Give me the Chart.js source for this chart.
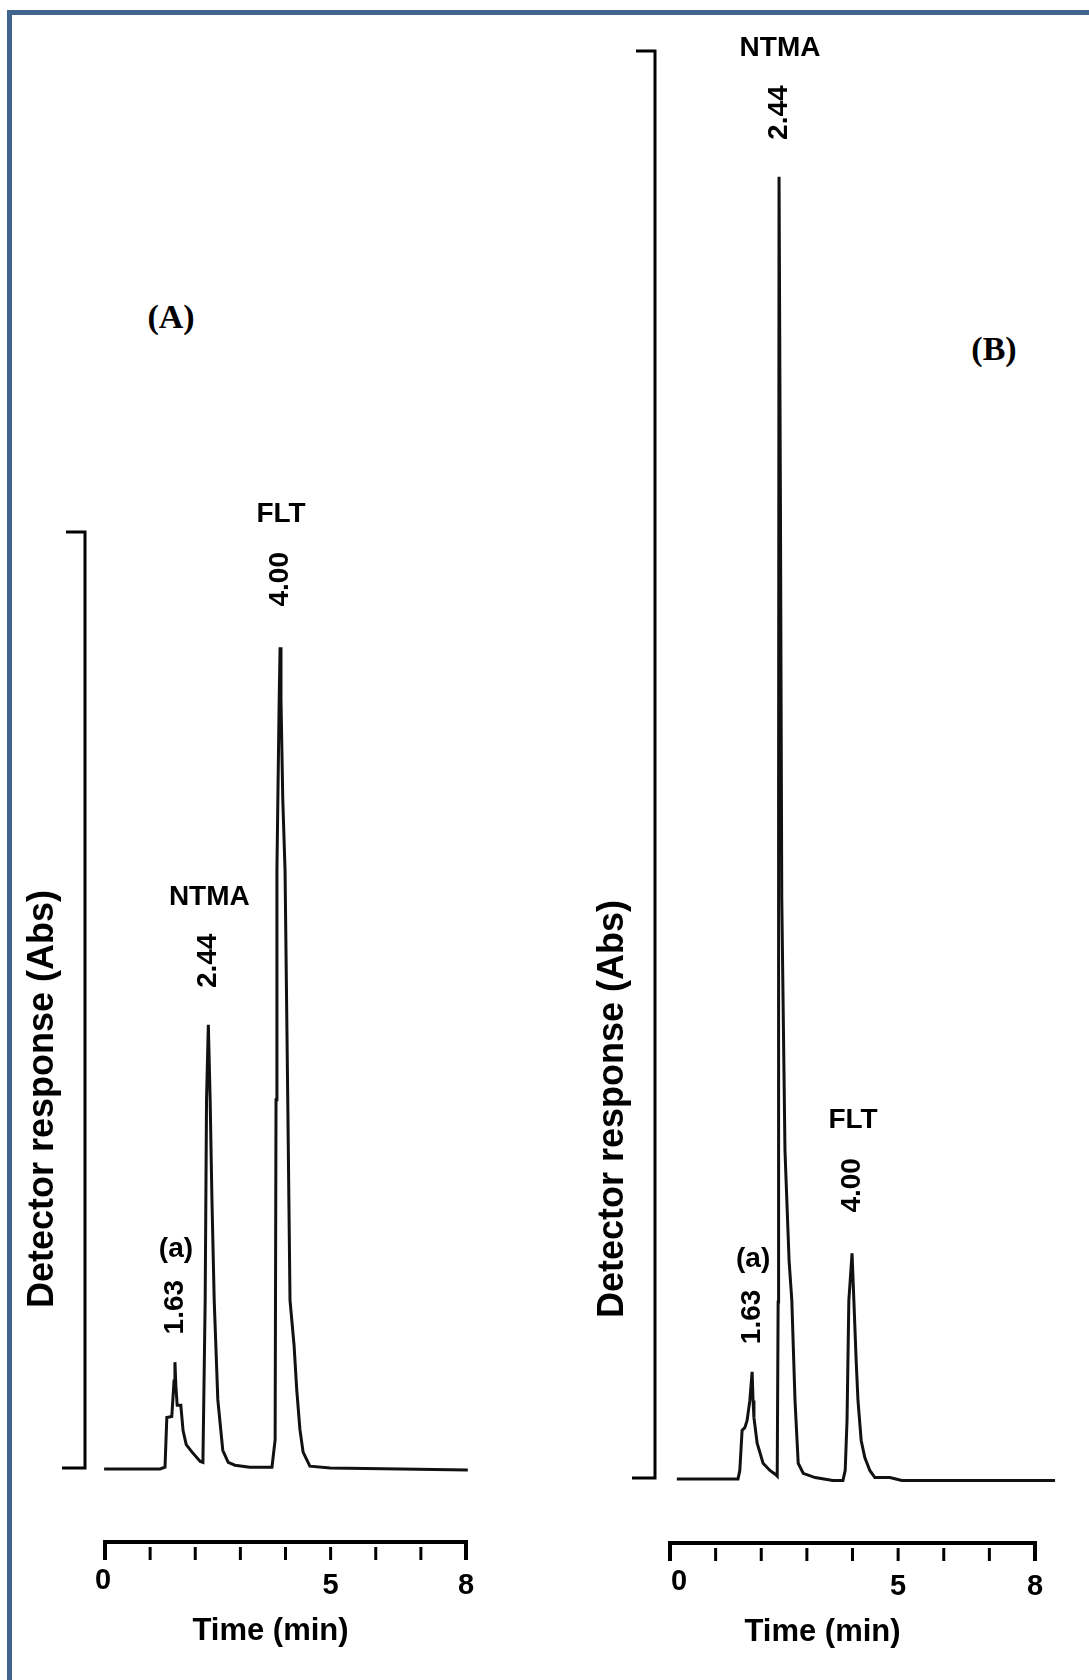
<!DOCTYPE html>
<html>
<head>
<meta charset="utf-8">
<script src="https://cdn.jsdelivr.net/npm/chart.js@4"></script>
<style>
  body { margin: 0; background: #fff; width: 1089px; height: 1680px; overflow: hidden; position: relative; }
  canvas { position: absolute; left: 0; top: 0; }
  .frame { position: absolute; left: 7px; top: 10px; width: 1200px; height: 1800px;
           border-top: 5px solid #41648f; border-left: 5px solid #41648f; }
  .tag { position: absolute; font: bold 34px "Liberation Serif", "Times New Roman", serif; transform: translate(-50%, -50%); }
</style>
</head>
<body>
<div class="frame"></div>
<div class="tag" style="left:171px; top:317px;">(A)</div>
<div class="tag" style="left:994px; top:349px;">(B)</div>
<canvas id="chartA" width="1089" height="1680"></canvas>
<canvas id="chartB" width="1089" height="1680"></canvas>
<script>
// time axis
const timeTicks = [0, 1, 2, 3, 4, 5, 6, 7, 8];
const timeTickLabels = ['0', '', '', '', '', '5', '', '', '8'];

// peak annotations (same for both runs)
const peakNames = ['(a)', 'NTMA', 'FLT'];
const peakRetention = ['1.63', '2.44', '4.00'];

// chromatogram A (time in min, response in % of bracket)
const timeA = [-0.02, 0.78, 1.22, 1.33, 1.37, 1.48, 1.53, 1.55, 1.57, 1.60, 1.68, 1.73, 1.80, 1.93, 2.11,
  2.17, 2.22, 2.25, 2.29, 2.33, 2.37, 2.42, 2.50, 2.61, 2.73, 2.88, 3.21,
  3.70, 3.77, 3.79, 3.81, 3.86, 3.88, 3.90, 3.94, 3.99, 4.05, 4.10, 4.19, 4.25, 4.32, 4.39, 4.54,
  4.99, 6.54, 8.04];
const respA = [0, 0, 0, 0.2, 5.5, 5.6, 9.4, 11.4, 8.9, 6.8, 6.8, 4.1, 2.6, 1.8, 0.8,
  0.7, 18.0, 39.4, 47.4, 39.4, 28.7, 18.0, 7.4, 2.0, 0.7, 0.4, 0.2,
  0.2, 3.1, 39.4, 63.9, 82.1, 87.7, 82.1, 71.4, 63.9, 39.4, 18.0, 13.2, 8.4, 4.2, 1.8, 0.3,
  0.1, 0, -0.1];

// chromatogram B
const timeB = [0.15, 1.49, 1.53, 1.58, 1.64, 1.69, 1.75, 1.80, 1.82, 1.84, 1.91, 2.04, 2.19, 2.32,
  2.35, 2.37, 2.38, 2.39, 2.42, 2.45, 2.52, 2.61, 2.67, 2.74, 2.81, 2.92, 3.18, 3.57,
  3.79, 3.84, 3.88, 3.92, 3.99, 4.03, 4.08, 4.12, 4.19, 4.27, 4.38, 4.49, 4.82, 5.08, 8.44];
const respB = [0, 0, 0.6, 3.4, 3.6, 4.1, 5.5, 7.5, 5.5, 4.3, 2.5, 1.1, 0.6, 0.3,
  0.2, 12.4, 47.5, 91.2, 68.6, 40.6, 23.0, 15.3, 12.5, 5.5, 1.1, 0.4, 0.1, -0.1,
  -0.1, 0.6, 4.1, 12.5, 15.8, 12.5, 8.3, 5.5, 2.7, 1.5, 0.6, 0.1, 0.1, -0.1, -0.1];

// how far above each apex the name / retention label sits (px)
const nameLift = [113, 128, 133];
const rtLift = [55, 64, 68];

const bold = px => 'bold ' + px + 'px "Liberation Sans", Arial, sans-serif';

// brackets, time axis, titles and peak labels
const chromPlugin = {
  id: 'chrom',
  afterDatasetsDraw(chart, args, o) {
    const ctx = chart.ctx, xs = chart.scales.x, ys = chart.scales.y;
    const base = ys.getPixelForValue(0);
    ctx.save();
    ctx.strokeStyle = '#000';
    ctx.fillStyle = '#000';
    ctx.lineCap = 'butt';

    // response bracket
    const bx = xs.getPixelForValue(0) - o.bracketGap;
    const top = ys.getPixelForValue(100);
    ctx.lineWidth = 3;
    ctx.beginPath();
    ctx.moveTo(bx - 19, top);
    ctx.lineTo(bx, top);
    ctx.lineTo(bx, base - 1);
    ctx.lineTo(bx - 23, base - 1);
    ctx.stroke();

    // y title
    ctx.save();
    ctx.translate(bx - 42, base - 370);
    ctx.rotate(-Math.PI / 2);
    ctx.font = bold(36);
    ctx.textAlign = 'center';
    ctx.textBaseline = 'middle';
    ctx.fillText('Detector response (Abs)', 0, 0);
    ctx.restore();

    // time axis bracket
    const ay = base + o.axisGap;
    const x0 = xs.getPixelForValue(timeTicks[0]);
    const x1 = xs.getPixelForValue(timeTicks[timeTicks.length - 1]);
    ctx.lineWidth = 4;
    ctx.beginPath();
    ctx.moveTo(x0, ay + 18);
    ctx.lineTo(x0, ay);
    ctx.lineTo(x1, ay);
    ctx.lineTo(x1, ay + 18);
    ctx.stroke();
    ctx.lineWidth = 3;
    ctx.font = bold(29);
    ctx.textAlign = 'center';
    ctx.textBaseline = 'middle';
    timeTicks.forEach((t, i) => {
      const x = xs.getPixelForValue(t);
      if (i > 0 && i < timeTicks.length - 1) {
        ctx.beginPath();
        ctx.moveTo(x, ay + 5);
        ctx.lineTo(x, ay + 18);
        ctx.stroke();
      }
      if (timeTickLabels[i]) ctx.fillText(timeTickLabels[i], x + (i === 0 ? o.zeroDx : 0), ay + (i === 0 ? 39 : 44));
    });
    ctx.font = bold(31);
    ctx.fillText('Time (min)', (x0 + x1) / 2 + o.titleDx, ay + 89);

    // peak labels at the apex of each peak
    const pts = chart.getDatasetMeta(0).data;
    const data = chart.data.datasets[0].data;
    peakRetention.forEach((rt, k) => {
      let best = -1;
      data.forEach((p, i) => {
        if (Math.abs(p.x - parseFloat(rt)) <= 0.25 && (best < 0 || p.y > data[best].y)) best = i;
      });
      const ax = pts[best].x, ayp = pts[best].y;
      ctx.font = bold(28);
      ctx.fillText(peakNames[k], ax + 1, ayp - nameLift[k]);
      ctx.save();
      ctx.translate(ax, ayp - rtLift[k]);
      ctx.rotate(-Math.PI / 2);
      ctx.fillText(rt, 0, 0);
      ctx.restore();
    });
    ctx.restore();
  }
};

function makeChart(id, times, resp, pad, opts) {
  const pts = times.map((t, i) => ({ x: t, y: resp[i] }));
  return new Chart(document.getElementById(id), {
    type: 'line',
    data: {
      datasets: [{
        data: pts,
        borderColor: '#111',
        borderWidth: 3,
        pointRadius: 0,
        tension: 0,
        fill: false,
        clip: false
      }]
    },
    options: {
      responsive: false,
      animation: false,
      devicePixelRatio: 1,
      layout: { padding: pad },
      plugins: { legend: { display: false }, tooltip: { enabled: false }, chrom: opts },
      events: [],
      scales: {
        x: { type: 'linear', min: 0, max: 8, display: false },
        y: { type: 'linear', min: 0, max: 100, display: false }
      }
    },
    plugins: [chromPlugin]
  });
}

makeChart('chartA', timeA, respA,
  { left: 105, right: 1089 - 466, top: 532, bottom: 1680 - 1469 },
  { bracketGap: 20, axisGap: 73, titleDx: -15, zeroDx: -2 });
makeChart('chartB', timeB, respB,
  { left: 670, right: 1089 - 1035, top: 51, bottom: 1680 - 1479 },
  { bracketGap: 15, axisGap: 64, titleDx: -30, zeroDx: 9 });
</script>
</body>
</html>
